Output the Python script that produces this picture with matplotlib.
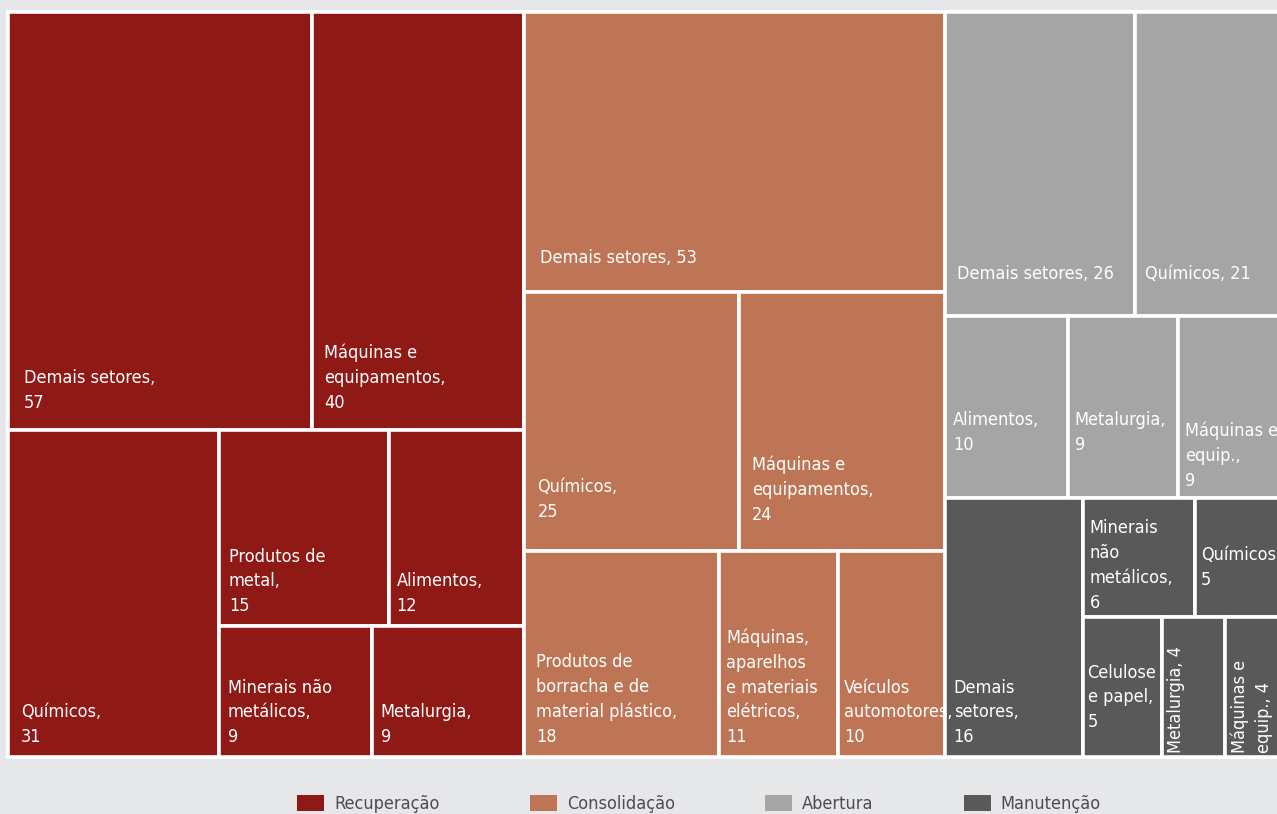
import matplotlib
matplotlib.use("Agg")
import matplotlib.pyplot as plt
from matplotlib.patches import Rectangle, Patch

plt.rcParams['font.family'] = ['DejaVu Sans']
plt.rcParams['font.stretch'] = 'condensed'

# data: sector counts per group, label formats keep the original line breaks
groups = ["Recuperação", "Consolidação", "Abertura", "Manutenção"]
colors = ["#8e1915", "#bd7556", "#a5a5a5", "#595959"]

rec_values = [57, 40, 31, 15, 12, 9, 9]
rec_labels = ["Demais setores,\n{}", "Máquinas e\nequipamentos,\n{}", "Químicos,\n{}",
              "Produtos de\nmetal,\n{}", "Alimentos,\n{}", "Minerais não\nmetálicos,\n{}",
              "Metalurgia,\n{}"]

con_values = [53, 25, 24, 18, 11, 10]
con_labels = ["Demais setores, {}", "Químicos,\n{}", "Máquinas e\nequipamentos,\n{}",
              "Produtos de\nborracha e de\nmaterial plástico,\n{}",
              "Máquinas,\naparelhos\ne materiais\nelétricos,\n{}", "Veículos\nautomotores,\n{}"]

abe_values = [26, 21, 10, 9, 9]
abe_labels = ["Demais setores, {}", "Químicos, {}", "Alimentos,\n{}", "Metalurgia,\n{}",
              "Máquinas e\nequip.,\n{}"]

man_values = [16, 6, 5, 5, 4, 4]
man_labels = ["Demais\nsetores,\n{}", "Minerais\nnão\nmetálicos,\n{}", "Químicos,\n{}",
              "Celulose\ne papel,\n{}", "Metalurgia, {}", "Máquinas e\nequip., {}"]

all_values = [rec_values, con_values, abe_values, man_values]
all_labels = [rec_labels, con_labels, abe_labels, man_labels]

# extra lift (px) of some labels above the default position
label_lift = {(0, 0): 7, (0, 1): 7, (1, 0): 14, (1, 1): 19, (1, 2): 16,
              (2, 0): 22, (2, 1): 22, (2, 2): 33, (2, 3): 33, (2, 4): -3,
              (3, 1): -6, (3, 2): 17, (3, 3): 15}

ASPECT = 1.12   # target aspect of the squarified layout


def squarify(vals, x, y, w, h, ratio):
    rects = []
    total = float(sum(vals))
    i0 = 0
    n = len(vals)
    while i0 < n:
        alpha = max(h / w, w / h) / (total * ratio)
        s = vals[i0]
        vmin = vmax = s
        beta = s * s * alpha
        best = max(vmax / beta, beta / vmin)
        i1 = i0 + 1
        while i1 < n:
            v = vals[i1]
            s2 = s + v
            beta = s2 * s2 * alpha
            r2 = max(max(vmax, v) / beta, beta / min(vmin, v))
            if r2 > best:
                break
            s = s2
            vmin = min(vmin, v)
            vmax = max(vmax, v)
            best = r2
            i1 += 1
        row = vals[i0:i1]
        if w < h:
            rh = h * s / total
            cx = x
            for v in row:
                rw = w * v / s
                rects.append((cx, y, rw, rh))
                cx += rw
            y += rh
            h -= rh
        else:
            rw = w * s / total
            cy = y
            for v in row:
                rh = h * v / s
                rects.append((x, cy, rw, rh))
                cy += rh
            x += rw
            w -= rw
        total -= s
        i0 = i1
    return rects


FW, FH = 1277, 814
fig = plt.figure(figsize=(FW / 100, FH / 100), dpi=100)
fig.patch.set_facecolor("#e6e7e9")
fig.add_artist(Rectangle((6 / FW, (FH - 759) / FH), 1290 / FW, 749 / FH,
                         transform=fig.transFigure, facecolor="white",
                         edgecolor="none", zorder=0))

# treemap area in pixels (runs past the right edge like the original)
X0, Y0, W, H = 8, 12, 1280.8, 745
ax = fig.add_axes([X0 / FW, (FH - Y0 - H) / FH, W / FW, H / FH])
ax.set_xlim(0, W)
ax.set_ylim(H, 0)
ax.axis("off")

group_totals = [sum(v) for v in all_values]
group_rects = squarify(group_totals, 0, 0, W, H, ASPECT)

for gi, (gx, gy, gw, gh) in enumerate(group_rects):
    vals = all_values[gi]
    rects = squarify(vals, gx, gy, gw, gh, ASPECT)
    for ii, (x, y, w, h) in enumerate(rects):
        ax.add_patch(Rectangle((x, y), w, h, facecolor=colors[gi],
                               edgecolor="white", linewidth=2.6, clip_on=False))
        txt = all_labels[gi][ii].format(vals[ii])
        if w < 70:
            ax.text(x + 5, y + h - 4, txt, rotation=90, ha="left", va="bottom",
                    color="white", fontsize=13, linespacing=1.4, clip_on=False)
        else:
            pad = min(16, max(4, 0.06 * w))
            lift = label_lift.get((gi, ii), 0)
            ax.text(x + pad, y + h - 11 - lift, txt, ha="left", va="bottom",
                    color="white", fontsize=13, linespacing=1.48)

handles = [Patch(facecolor=c, edgecolor="none") for c in colors]
fig.legend(handles, groups, loc="center", bbox_to_anchor=(699 / FW, 10 / FH),
           ncol=4, frameon=False, fontsize=13, handlelength=1.5,
           handleheight=0.95, handletextpad=0.55, columnspacing=5.0,
           labelcolor="#4d4d4f")

fig.savefig("out.png", dpi=100, facecolor=fig.get_facecolor())
